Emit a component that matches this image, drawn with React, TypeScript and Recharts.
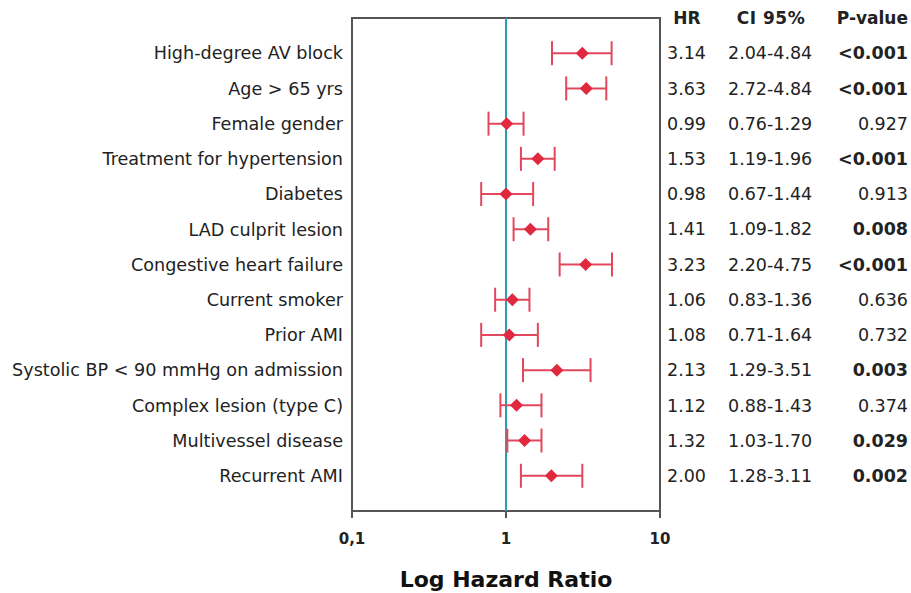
import {
  ErrorBar,
  ReferenceArea,
  ReferenceLine,
  Scatter,
  ScatterChart,
  XAxis,
  YAxis,
} from 'recharts'

const FACTORS = [
  'High-degree AV block',
  'Age > 65 yrs',
  'Female gender',
  'Treatment for hypertension',
  'Diabetes',
  'LAD culprit lesion',
  'Congestive heart failure',
  'Current smoker',
  'Prior AMI',
  'Systolic BP < 90 mmHg on admission',
  'Complex lesion (type C)',
  'Multivessel disease',
  'Recurrent AMI',
]

// positions of the drawn markers
const HR_POINT = [3.13, 3.32, 1.01, 1.61, 1.0, 1.44, 3.29, 1.1, 1.05, 2.14, 1.17, 1.32, 1.97]
const CI_LOW = [1.99, 2.46, 0.77, 1.25, 0.69, 1.12, 2.23, 0.85, 0.69, 1.29, 0.92, 1.02, 1.25]
const CI_HIGH = [4.85, 4.48, 1.3, 2.07, 1.5, 1.88, 4.88, 1.42, 1.61, 3.54, 1.7, 1.7, 3.13]

// table columns, as printed
const HR_TEXT = ['3.14', '3.63', '0.99', '1.53', '0.98', '1.41', '3.23', '1.06', '1.08', '2.13', '1.12', '1.32', '2.00']
const CI_TEXT = [
  '2.04-4.84', '2.72-4.84', '0.76-1.29', '1.19-1.96', '0.67-1.44', '1.09-1.82', '2.20-4.75',
  '0.83-1.36', '0.71-1.64', '1.29-3.51', '0.88-1.43', '1.03-1.70', '1.28-3.11',
]
const P_TEXT = ['<0.001', '<0.001', '0.927', '<0.001', '0.913', '0.008', '<0.001', '0.636', '0.732', '0.003', '0.374', '0.029', '0.002']

const X_TICKS = [0.1, 1, 10]
const ROW_TICKS = FACTORS.map((_, i) => i + 1)
const TABLE_TICKS = [0, ...ROW_TICKS]

const FONT = '"DejaVu Sans", Verdana, sans-serif'
const TEXT = '#222'
const MARKER = '#e0283f'
const WHISKER = '#e2475b'

function isSignificant(p: string) {
  return p.startsWith('<') || Number(p) < 0.05
}

function Diamond(props: any) {
  const { cx, cy } = props
  if (cx == null || cy == null) return <g />
  const r = 6.5
  return <path d={`M${cx},${cy - r}L${cx + r},${cy}L${cx},${cy + r}L${cx - r},${cy}Z`} fill={MARKER} />
}

function renderTableTick(props: any) {
  const { x, y, payload } = props
  const row = payload.value
  if (row === 0) {
    return (
      <g fontWeight="bold" fontSize={17}>
        <text x={x + 27} y={y} dy="0.355em" textAnchor="middle" fill={TEXT}>HR</text>
        <text x={x + 111} y={y} dy="0.355em" textAnchor="middle" fill={TEXT} letterSpacing={0.5}>CI 95%</text>
        <text x={x + 248} y={y} dy="0.355em" textAnchor="end" fill={TEXT}>P-value</text>
      </g>
    )
  }
  const i = row - 1
  return (
    <g fontSize={17.5}>
      <text x={x + 7} y={y} dy="0.355em" fill={TEXT}>{HR_TEXT[i]}</text>
      <text x={x + 68} y={y} dy="0.355em" fill={TEXT}>{CI_TEXT[i]}</text>
      <text
        x={x + 248}
        y={y}
        dy="0.355em"
        textAnchor="end"
        fill={TEXT}
        fontWeight={isSignificant(P_TEXT[i]) ? 'bold' : 'normal'}
      >
        {P_TEXT[i]}
      </text>
    </g>
  )
}

export default function App() {
  const rows = FACTORS.map((name, i) => ({
    name,
    row: i + 1,
    hr: HR_POINT[i],
    err: [HR_POINT[i] - CI_LOW[i], CI_HIGH[i] - HR_POINT[i]],
  }))

  return (
    <div style={{ position: 'absolute', left: 0, top: 0, fontFamily: FONT, background: '#fff' }}>
      <ScatterChart width={911} height={593} margin={{ top: 18, right: 0, bottom: 0, left: 0 }}>
        <XAxis
          type="number"
          dataKey="hr"
          scale="log"
          domain={[0.1, 10]}
          ticks={X_TICKS}
          allowDataOverflow
          tickFormatter={(v) => String(v).replace('.', ',')}
          axisLine={false}
          tickLine={{ stroke: '#555', strokeWidth: 2 }}
          tickSize={7}
          tickMargin={15}
          tick={{ fill: TEXT, fontSize: 15, fontWeight: 'bold' }}
          height={82}
          label={{
            value: 'Log Hazard Ratio',
            position: 'insideBottom',
            offset: 6,
            fontSize: 22,
            fontWeight: 'bold',
            fill: '#111',
          }}
        />
        <YAxis
          yAxisId="left"
          type="number"
          dataKey="row"
          domain={[0, 14]}
          reversed
          allowDataOverflow
          ticks={ROW_TICKS}
          interval={0}
          tickFormatter={(v) => FACTORS[v - 1] ?? ''}
          axisLine={false}
          tickLine={false}
          tickMargin={3}
          tick={{ fill: TEXT, fontSize: 17.6 }}
          width={352}
        />
        <YAxis
          yAxisId="right"
          orientation="right"
          type="number"
          dataKey="row"
          domain={[0, 14]}
          reversed
          allowDataOverflow
          ticks={TABLE_TICKS}
          interval={0}
          axisLine={false}
          tickLine={false}
          tickSize={0}
          tickMargin={0}
          tick={renderTableTick}
          width={251}
        />
        <ReferenceArea
          yAxisId="left"
          x1={0.1}
          x2={10}
          y1={0}
          y2={14}
          fill="none"
          stroke="#555"
          strokeWidth={2}
        />
        <ReferenceLine yAxisId="left" x={1} stroke="#2a9fb0" strokeWidth={2} />
        <Scatter yAxisId="right" data={rows} shape={() => <g />} isAnimationActive={false} />
        <Scatter yAxisId="left" data={rows} shape={<Diamond />} isAnimationActive={false}>
          <ErrorBar dataKey="err" direction="x" width={12} stroke={WHISKER} strokeWidth={2} />
        </Scatter>
      </ScatterChart>
    </div>
  )
}
